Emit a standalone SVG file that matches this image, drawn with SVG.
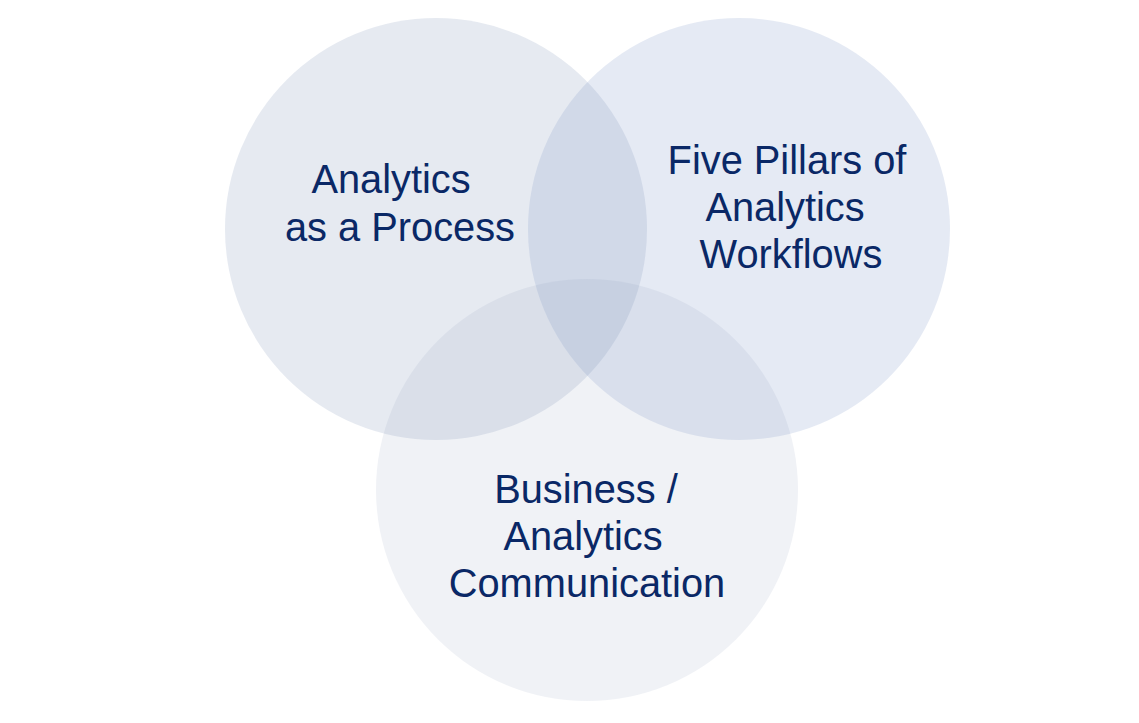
<svg xmlns="http://www.w3.org/2000/svg" width="1139" height="723" viewBox="0 0 1139 723">
<style>
.c{fill:#8296b8;}
.t{font-family:"Liberation Sans",Arial,sans-serif;font-size:39.8px;fill:#0a2866;text-anchor:middle;}
</style>
<rect width="1139" height="723" fill="#ffffff"/>
<g id="circle-left">
<circle class="c" cx="436" cy="229" r="211" fill-opacity="0.2"/>
</g>
<g id="circle-right">
<circle cx="739" cy="229" r="211" fill="#7f95c6" fill-opacity="0.2"/>
</g>
<g id="circle-bottom">
<circle class="c" cx="587" cy="490" r="211" fill-opacity="0.12"/>
</g>
<g id="label-left">
<text class="t" x="391" y="193">Analytics</text>
<text class="t" x="400" y="241">as a Process</text>
</g>
<g id="label-right">
<text class="t" x="787" y="174">Five Pillars of</text>
<text class="t" x="785" y="221">Analytics</text>
<text class="t" x="791" y="268">Workflows</text>
</g>
<g id="label-bottom">
<text class="t" x="586" y="503">Business /</text>
<text class="t" x="583" y="550">Analytics</text>
<text class="t" x="587" y="597">Communication</text>
</g>
<g id="connectors"/>
</svg>
